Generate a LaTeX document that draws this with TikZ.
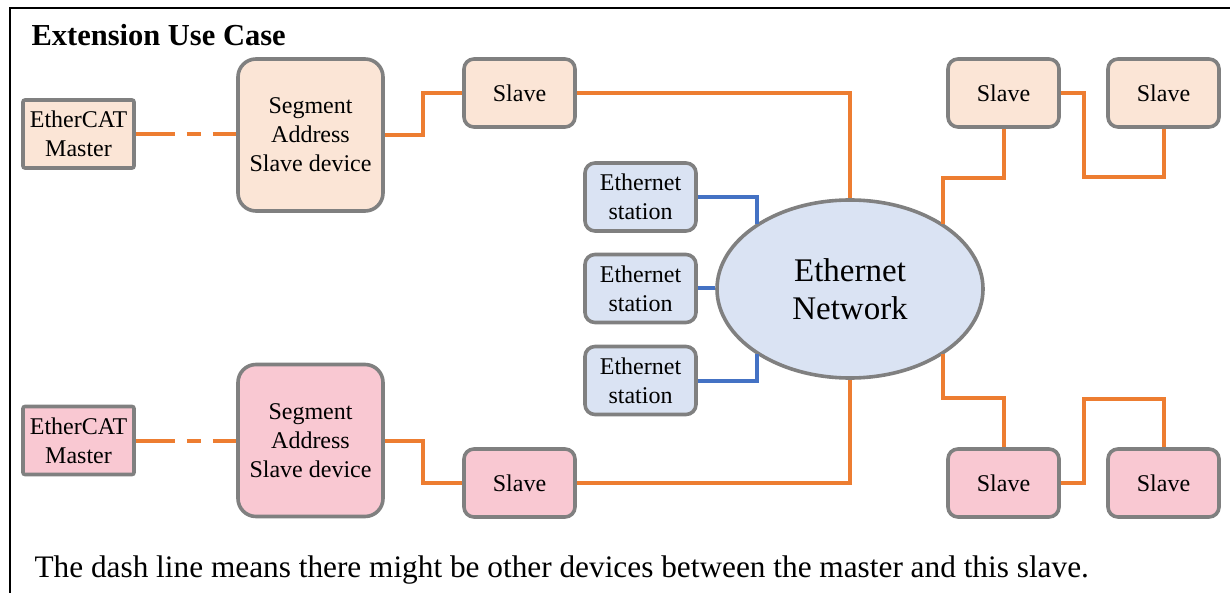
\documentclass[tikz,border=0pt]{standalone}
\usepackage{fontspec}
\setmainfont{Liberation Serif}
\usetikzlibrary{shapes.geometric,calc}
\definecolor{peach}{HTML}{FBE5D6}
\definecolor{pinkf}{HTML}{F9C8D2}
\definecolor{bluef}{HTML}{DAE3F3}
\definecolor{bordg}{HTML}{808080}
\definecolor{orl}{HTML}{ED7D31}
\definecolor{bll}{HTML}{4472C4}
\tikzset{
  base/.style={draw=bordg, line width=3.6pt, inner sep=0pt, align=center,
    font=\fontsize{24}{29}\selectfont},
  master/.style={base, rounded corners=2pt, minimum width=111pt, minimum height=68pt},
  segbox/.style={base, rounded corners=18pt, minimum width=145pt, minimum height=152pt},
  slavebox/.style={base, rounded corners=10pt, minimum width=111pt, minimum height=68pt},
  station/.style={base, fill=bluef, rounded corners=10pt, minimum width=111pt, minimum height=68pt},
  net/.style={draw=bordg, line width=3.6pt, fill=bluef, ellipse, inner sep=0pt,
    minimum width=266pt, minimum height=178pt, align=center,
    font=\fontsize{33}{38}\selectfont},
  ecat/.style={draw=orl, line width=4pt},
  ecatdash/.style={ecat, dash pattern=on 39pt off 12pt on 14pt off 12pt},
  ethl/.style={draw=bll, line width=4pt},
}
\begin{document}
\begin{tikzpicture}[x=1pt,y=-1pt]
\fill[white] (0,0) rectangle (1230,593);
\useasboundingbox (0,0) rectangle (1230,593);
\draw[line width=2.8pt] (1232,8) -- (10,8) -- (10,595);

\node[anchor=base west, font=\fontsize{30.5}{36}\selectfont\bfseries] (title) at (28,46) {Extension Use Case};

% top chain
\node[master, fill=peach] (m1) at (78.5,134) {EtherCAT\\Master};
\node[segbox, fill=peach] (s1) at (310.5,135) {Segment\\Address\\Slave device};
\node[slavebox, fill=peach] (sl1) at (519.5,93) {Slave};
% bottom chain
\node[master, fill=pinkf] (m2) at (78.5,440.5) {EtherCAT\\Master};
\node[segbox, fill=pinkf] (s2) at (310.5,440.5) {Segment\\Address\\Slave device};
\node[slavebox, fill=pinkf] (sl2) at (519.5,483) {Slave};
% network
\node[net] (net) at (850,289) {Ethernet\\Network};
\node[station] (e1) at (640.5,197) {Ethernet\\station};
\node[station] (e2) at (640.5,288.5) {Ethernet\\station};
\node[station] (e3) at (640.5,380.5) {Ethernet\\station};
% right slaves
\node[slavebox, fill=peach] (sa) at (1003.5,93) {Slave};
\node[slavebox, fill=peach] (sb) at (1163.5,93) {Slave};
\node[slavebox, fill=pinkf] (sc) at (1003.5,483) {Slave};
\node[slavebox, fill=pinkf] (sd) at (1163.5,483) {Slave};

% connectors
\draw[ecatdash] (m1.east) -- (s1.west |- m1.east);
\draw[ecatdash] (m2.east) -- (s2.west |- m2.east);
\draw[ecat] (s1.east) -- ++(38,0) |- (sl1.west);
\draw[ecat] (s2.east) -- ++(38,0) |- (sl2.west);
\draw[ecat] (sl1.east) -| (net.north);
\draw[ecat] (sl2.east) -| (net.south);
\draw[ethl] (e1.east) -| (net.145);
\draw[ethl] (e2.east) -- (e2.east -| net.west);
\draw[ethl] (e3.east) -| (net.215);
\draw[ecat] (net.35) -- ++(0,-46) -| (sa.south);
\draw[ecat] (sa.east) -| ($(sa.east)+(23,84)$) -| (sb.south);
\draw[ecat] (net.-35) -- ++(0,44) -| (sc.north);
\draw[ecat] (sc.east) -| ($(sc.east)+(23,-84)$) -| (sd.north);

\node[anchor=base west, font=\fontsize{31.3}{36}\selectfont] (note) at (31,577) {The dash line means there might be other devices between the master and this slave.};
\end{tikzpicture}
\end{document}
